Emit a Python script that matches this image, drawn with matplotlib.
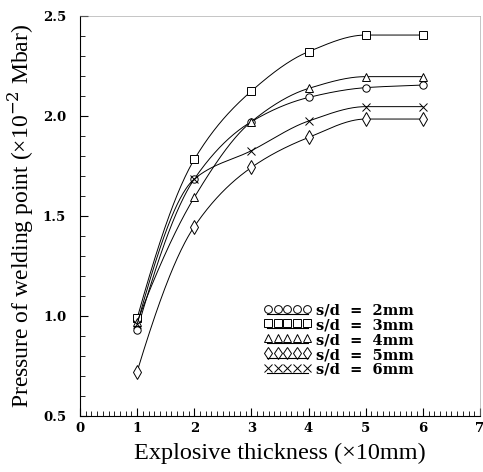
import numpy as np
import matplotlib
matplotlib.use("Agg")
import matplotlib.pyplot as plt
from matplotlib.ticker import MultipleLocator, FormatStrFormatter
from matplotlib.legend_handler import HandlerBase
from matplotlib.lines import Line2D

thickness = [1, 2, 3, 4, 5, 6]
p_2mm = [0.93, 1.685, 1.972, 2.093, 2.142, 2.155]
p_3mm = [0.988, 1.783, 2.125, 2.322, 2.405, 2.405]
p_4mm = [0.97, 1.593, 1.972, 2.138, 2.197, 2.197]
p_5mm = [0.722, 1.447, 1.743, 1.893, 1.985, 1.985]
p_6mm = [0.96, 1.685, 1.827, 1.975, 2.047, 2.047]
labels = ["s/d  =  2mm", "s/d  =  3mm", "s/d  =  4mm", "s/d  =  5mm", "s/d  =  6mm"]
markers = ["o", "s", "^", "d", "x"]


def pchip(x, y, xs):
    x = np.asarray(x, float); y = np.asarray(y, float)
    h = np.diff(x); d = np.diff(y) / h
    n = len(x); m = np.zeros(n)
    for k in range(1, n - 1):
        if d[k - 1] * d[k] > 0:
            w1 = 2 * h[k] + h[k - 1]; w2 = h[k] + 2 * h[k - 1]
            m[k] = (w1 + w2) / (w1 / d[k - 1] + w2 / d[k])
    m[0] = ((2 * h[0] + h[1]) * d[0] - h[0] * d[1]) / (h[0] + h[1])
    if np.sign(m[0]) != np.sign(d[0]):
        m[0] = 0
    m[-1] = 0 if d[-1] == 0 else d[-1]
    idx = np.clip(np.searchsorted(x, xs) - 1, 0, n - 2)
    t = (xs - x[idx]) / h[idx]
    h00 = 2 * t**3 - 3 * t**2 + 1; h10 = t**3 - 2 * t**2 + t
    h01 = -2 * t**3 + 3 * t**2; h11 = t**3 - t**2
    return h00 * y[idx] + h10 * h[idx] * m[idx] + h01 * y[idx + 1] + h11 * h[idx] * m[idx + 1]


class RowHandler(HandlerBase):
    def create_artists(self, legend, orig, xdescent, ydescent, width, height,
                       fontsize, trans):
        n = 5
        step = width / n
        xm = -xdescent + step * (np.arange(n) + 0.5)
        yc = -ydescent + height * 0.5 + 0.8
        mk = orig.get_marker()
        ms = orig.get_markersize()
        pts = Line2D(xm, np.full(n, yc), linestyle='none', marker=mk, markersize=ms,
                     markerfacecolor='none', markeredgecolor='black',
                     markeredgewidth=0.7)
        yb = yc - ms * 0.5 - 0.9
        base = Line2D([-xdescent + step * 0.4, -xdescent + width - step * 0.4], [yb, yb],
                      color='black', linewidth=0.8, linestyle='-', marker='None')
        base.set_transform(trans)
        pts.set_transform(trans)
        return [base, pts]


plt.rcParams['font.family'] = ['DejaVu Serif']
plt.rcParams['mathtext.fontset'] = 'dejavuserif'
fig = plt.figure(figsize=(4.83, 4.72), dpi=100)
ax = fig.add_axes([0.1656, 0.1186, 0.8282, 0.8474])

xs = np.linspace(1, 6, 300)
handles = []
for ys, mk, lb in zip([p_2mm, p_3mm, p_4mm, p_5mm, p_6mm], markers, labels):
    ax.plot(xs, pchip(thickness, ys, xs), color='black', lw=0.7)
    ms = 7.5 if mk == 'd' else 5.3
    ax.plot(thickness, ys, linestyle='none', marker=mk, ms=ms, mfc='white',
            mec='black', mew=0.7)
    h = Line2D([], [], color='black', lw=0.7, marker=mk,
               ms=6.0 if mk == 'd' else 5.6)
    handles.append(h)

ax.set_xlim(0, 7)
ax.set_ylim(0.5, 2.5)
ax.xaxis.set_major_locator(MultipleLocator(1))
ax.xaxis.set_minor_locator(MultipleLocator(0.1))
ax.yaxis.set_major_locator(MultipleLocator(0.5))
ax.yaxis.set_minor_locator(MultipleLocator(0.1))
ax.yaxis.set_major_formatter(FormatStrFormatter('%.1f'))
ax.tick_params(which='both', direction='in', top=False, right=False, labelsize=9.5)
ax.tick_params(which='major', length=6, width=0.8)
ax.tick_params(which='minor', length=3.5, width=0.6)
ax.tick_params(axis='y', which='major', pad=10)
ax.tick_params(axis='x', which='major', pad=4)
for t in ax.get_xticklabels() + ax.get_yticklabels():
    t.set_fontweight('bold')
for s in ['top', 'right']:
    ax.spines[s].set_linewidth(0.4)
    ax.spines[s].set_color('#999999')
for s in ['left', 'bottom']:
    ax.spines[s].set_linewidth(0.8)

ax.set_xlabel("Explosive thickness (×10mm)", fontsize=17.5, labelpad=6,
              family='Liberation Serif')
ax.set_ylabel("Pressure of welding point (×10$^{-2}$ Mbar)", fontsize=17, labelpad=5,
              family='Liberation Serif')

leg = ax.legend(handles, labels, loc='lower left', bbox_to_anchor=(0.44, 0.08),
                frameon=False, handler_map={Line2D: RowHandler()},
                handlelength=3.3, handletextpad=0.3,
                labelspacing=0.05, fontsize=10.5, borderpad=0)
for t in leg.get_texts():
    t.set_fontweight('bold')

fig.savefig("out.png", dpi=100)
